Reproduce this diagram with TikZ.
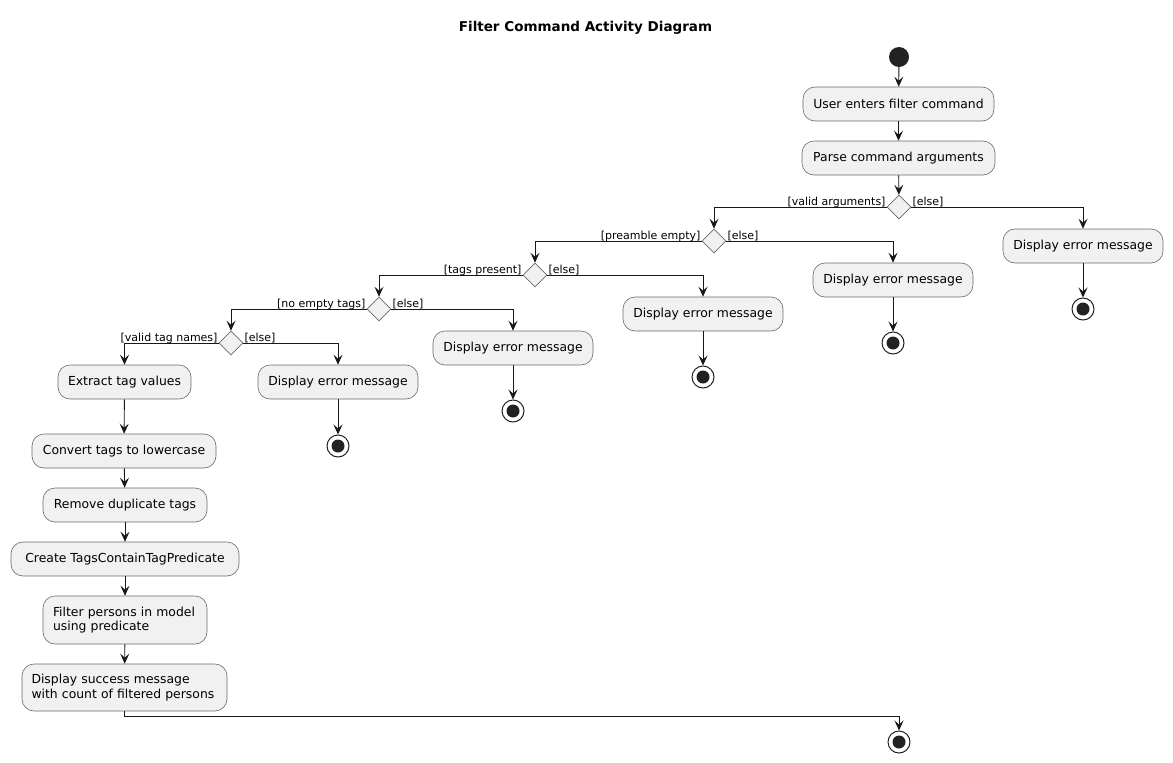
\documentclass[tikz,border=0pt]{standalone}
\usepackage{fontspec}
\setmainfont{DejaVu Sans}
\usetikzlibrary{shapes.geometric,arrows.meta}
\definecolor{boxfill}{HTML}{F1F1F1}
\definecolor{boxline}{HTML}{6A6A6A}
\definecolor{ink}{HTML}{181818}
\definecolor{dot}{HTML}{222222}
\tikzset{
  actbox/.style={draw=boxline, line width=0.6pt, fill=boxfill, rounded corners=12pt,
    minimum height=34pt, inner xsep=10pt, inner ysep=4pt, font=\fontsize{12.4}{14.5}\selectfont, align=left},
  decis/.style={diamond, draw=boxline, line width=0.6pt, fill=boxfill, minimum width=24pt, minimum height=24pt, inner sep=0pt, aspect=1},
  startnode/.style={circle, fill=dot, minimum size=20pt, inner sep=0pt},
  stopnode/.style={circle, draw=dot, line width=1pt, fill=white, minimum size=22pt, inner sep=0pt,
    path picture={\fill[dot] (path picture bounding box.center) circle (6.5pt);}},
  arr/.style={draw=ink, line width=0.9pt, -{Stealth[length=10pt,width=9pt,inset=4pt]}},
  lbl/.style={font=\fontsize{11}{12}\selectfont, inner sep=1pt},
}
\begin{document}
\begin{tikzpicture}[x=1pt,y=-1pt]
\useasboundingbox (0,0) rectangle (1173,763);
\node[font=\bfseries\fontsize{13.5}{15}\selectfont] (title) at (585.5,28) {Filter Command Activity Diagram};

\node[startnode] (start) at (899,57) {};
\node[actbox, minimum width=191pt] (b1) at (898.5,104) {User enters filter command};
\node[actbox, minimum width=193pt] (b2) at (898.5,158) {Parse command arguments};
\node[decis] (d1) at (899,207) {};
\node[actbox, minimum width=160pt] (e1) at (1083,246) {Display error message};
\node[stopnode] (s1) at (1083,309) {};
\node[decis] (d2) at (714,241) {};
\node[actbox, minimum width=160pt] (e2) at (893,280) {Display error message};
\node[stopnode] (s2) at (893,343) {};
\node[decis] (d3) at (535,275) {};
\node[actbox, minimum width=160pt] (e3) at (703,314) {Display error message};
\node[stopnode] (s3) at (703,377) {};
\node[decis] (d4) at (379,309) {};
\node[actbox, minimum width=160pt] (e4) at (513,348) {Display error message};
\node[stopnode] (s4) at (513,411) {};
\node[decis] (d5) at (231,343) {};
\node[actbox, minimum width=160pt] (e5) at (338,382) {Display error message};
\node[stopnode] (s5) at (338,446) {};
\node[actbox, minimum width=133pt] (x1) at (124.5,382) {Extract tag values};
\node[actbox, minimum width=184pt] (x2) at (124,451) {Convert tags to lowercase};
\node[actbox, minimum width=164pt] (x3) at (125,505) {Remove duplicate tags};
\node[actbox, minimum width=228pt] (x4) at (125,559) {Create TagsContainTagPredicate};
\node[actbox, minimum width=164pt, minimum height=48pt, text width=144pt] (x5) at (125,620) {Filter persons in model\\using predicate};
\node[actbox, minimum width=205pt, minimum height=47pt, inner xsep=9.5pt, text width=186pt] (x6) at (124.5,687.5) {Display success message\\with count of filtered persons};
\node[stopnode] (fin) at (899,742) {};

\draw[arr] (start) -- (b1);
\draw[arr] (b1) -- (b2);
\draw[arr] (b2) -- (d1);
\draw[arr] (d1.west) -| (d2.north);
\draw[arr] (d1.east) -| (e1.north);
\draw[arr] (e1) -- (s1);
\draw[arr] (d2.west) -| (d3.north);
\draw[arr] (d2.east) -| (e2.north);
\draw[arr] (e2) -- (s2);
\draw[arr] (d3.west) -| (d4.north);
\draw[arr] (d3.east) -| (e3.north);
\draw[arr] (e3) -- (s3);
\draw[arr] (d4.west) -| (d5.north);
\draw[arr] (d4.east) -| (e4.north);
\draw[arr] (e4) -- (s4);
\draw[arr] (d5.west) -| (x1.north);
\draw[arr] (d5.east) -| (e5.north);
\draw[arr] (e5) -- (s5);
\draw[arr] (x1) -- (x2);
\draw[arr] (x2) -- (x3);
\draw[arr] (x3) -- (x4);
\draw[arr] (x4) -- (x5);
\draw[arr] (x5) -- (x6);
\draw[arr] (x6.south) -- ++(0,5) -| (fin.north);

\node[lbl, anchor=base east] (l1a) at ([yshift=2pt]d1.west) {[valid arguments]};
\node[lbl, anchor=base west] (l1b) at ([yshift=2pt]d1.east) {[else]};
\node[lbl, anchor=base east] (l2a) at ([yshift=2pt]d2.west) {[preamble empty]};
\node[lbl, anchor=base west] (l2b) at ([yshift=2pt]d2.east) {[else]};
\node[lbl, anchor=base east] (l3a) at ([yshift=2pt]d3.west) {[tags present]};
\node[lbl, anchor=base west] (l3b) at ([yshift=2pt]d3.east) {[else]};
\node[lbl, anchor=base east] (l4a) at ([yshift=2pt]d4.west) {[no empty tags]};
\node[lbl, anchor=base west] (l4b) at ([yshift=2pt]d4.east) {[else]};
\node[lbl, anchor=base east] (l5a) at ([yshift=2pt]d5.west) {[valid tag names]};
\node[lbl, anchor=base west] (l5b) at ([yshift=2pt]d5.east) {[else]};
\end{tikzpicture}
\end{document}
